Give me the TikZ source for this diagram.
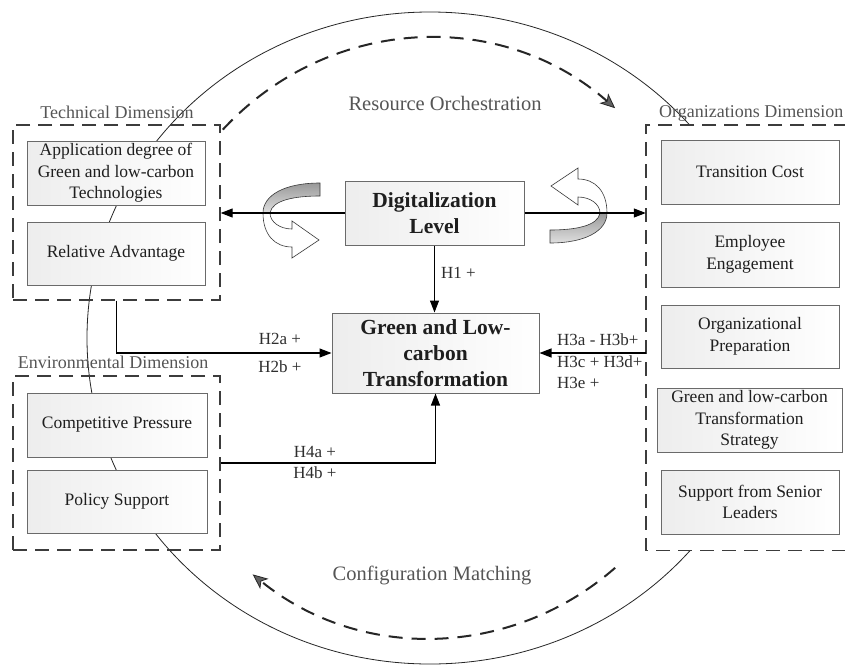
\documentclass[tikz,border=0pt]{standalone}
\usepackage{fontspec}
\setmainfont{Liberation Serif}
\usetikzlibrary{arrows.meta}
\definecolor{boxline}{HTML}{6A6A6A}
\definecolor{frameline}{HTML}{3C3C3C}
\definecolor{boxtext}{HTML}{1E1E1E}
\definecolor{labtext}{HTML}{2E2E2E}
\definecolor{dimtext}{HTML}{555555}
\newcommand\boxfont{\fontsize{17.5}{21.5}\selectfont}
\newcommand\boldboxfont{\fontsize{21.5}{26}\selectfont\bfseries}
\newcommand\hfont{\fontsize{17}{21}\selectfont}
\newcommand\dimfont{\fontsize{18}{22}\selectfont}
\newcommand\titlefont{\fontsize{20.5}{24}\selectfont}
\tikzset{
  twistarrow/.pic={
    \path[draw=gray!45!black, line width=0.6pt, top color=gray!80, bottom color=gray!25]
      (54,30) -- (54,17) .. controls (29,17) and (6,13) .. (4,0) -- (-3,0)
      .. controls (-3,18) and (19,30) .. (54,30) -- cycle;
    \path[draw=gray!45!black, line width=0.6pt, fill=white]
      (-3,0) .. controls (-3,-22) and (9,-34) .. (26,-34) -- (26,-45) -- (53,-27)
      -- (26,-8) -- (26,-16) .. controls (14,-16) and (4,-9) .. (4,0) -- cycle;
  }
}
\begin{document}
\begin{tikzpicture}[x=1pt,y=1pt,
  box/.style={draw=boxline, line width=1pt, left color=gray!14, right color=white,
    text=boxtext, align=center, inner sep=2pt, font=\boxfont},
  dimframe/.style={draw=frameline, line width=1.4pt, dash pattern=on 14pt off 8pt},
  conn/.style={line width=1.1pt, -{Triangle[length=12pt,width=9pt]}},
  flow/.style={line width=2pt, draw=black!85, dash pattern=on 14pt off 9pt,
    -{Stealth[length=15pt,width=13pt,inset=4pt,fill=gray!75!black,line width=0.8pt]}},
  hlab/.style={text=labtext, font=\hfont, inner sep=0pt},
  dimlab/.style={text=dimtext, font=\dimfont, inner sep=0pt},
  titlelab/.style={text=dimtext, font=\titlefont, inner sep=0pt}
]
\clip (0,0) rectangle (845,-664);
\fill[white] (0,0) rectangle (845,-664);

% big ellipse
\draw[line width=0.8pt, black!85] (430,-338) ellipse [x radius=343, y radius=326];

% dashed cycle arcs
\draw[flow] (430,-338) ++(136:288 and 300) arc[start angle=136, end angle=50, x radius=288, y radius=300];
\draw[flow] (430,-338) ++(-50:288 and 300) arc[start angle=-50, end angle=-128, x radius=288, y radius=300];

% frames
\node (tech) [dimframe, minimum width=207, minimum height=175, inner sep=0pt] at (116.5,-212.5) {};
\node (env) [dimframe, minimum width=207, minimum height=174, inner sep=0pt] at (116.5,-463) {};
\node (orgf) [fill=white, minimum width=224, minimum height=425, inner sep=0pt] at (758,-337.5) {};
\draw[dimframe] (orgf.north east) -- (orgf.north west) -- (orgf.south west) -- (orgf.south east);

\node (techlab) [dimlab] at (117,-112) {Technical Dimension};
\node (envlab) [dimlab] at (113,-362) {Environmental Dimension};
\node (orglab) [dimlab, anchor=west] at (659,-113) {Organizations Dimension};
\node (rotitle) [titlelab] at (445,-103) {Resource Orchestration};
\node (cmtitle) [titlelab] at (432,-575) {Configuration Matching};

% boxes
\node (app) [box, minimum width=178, minimum height=64] at (116,-173) {Application degree of\\Green and low-carbon\\Technologies};
\node (rel) [box, minimum width=178, minimum height=63] at (116,-253.5) {Relative Advantage};
\node (comp) [box, minimum width=180, minimum height=64] at (117,-425) {Competitive Pressure};
\node (pol) [box, minimum width=180, minimum height=63] at (117,-501.5) {Policy Support};
\node (dig) [box, font=\boldboxfont, minimum width=179, minimum height=64] at (434.5,-213) {Digitalization\\Level};
\node (green) [box, font=\boldboxfont, minimum width=207, minimum height=80, inner sep=0pt] at (435.5,-353) {Green and Low-\\carbon\\Transformation};
\node (trans) [box, minimum width=178, minimum height=64] at (750,-172) {Transition Cost};
\node (emp) [box, minimum width=178, minimum height=65] at (750,-254.5) {Employee\\Engagement};
\node (prep) [box, minimum width=178, minimum height=63] at (750,-336.5) {Organizational\\Preparation};
\node (strat) [box, minimum width=185, minimum height=64, inner sep=0pt] at (749.5,-420) {Green and low-carbon\\Transformation\\Strategy};
\node (sup) [box, minimum width=178, minimum height=64] at (750,-502) {Support from Senior\\Leaders};

% twisted arrows
\pic at (266,-213) {twistarrow};
\pic[rotate=180] at (604,-213) {twistarrow};

% connectors
\draw[conn] (dig.west) -- (dig.west -| tech.east);
\draw[conn] (dig.east) -- (dig.east -| orgf.west);
\draw[conn] (dig.south) -- (dig.south |- green.north);
\draw[conn] (tech.south) -- (tech.south |- green.west) -- (green.west);
\draw[conn] (orgf.west |- green.east) -- (green.east);
\draw[conn] (env.east) -- (env.east -| green.south) -- (green.south);

% labels
\node (h1) [hlab, anchor=west] at (441,-273) {H1 +};
\node (h2a) [hlab] at (280,-339) {H2a +};
\node (h2b) [hlab] at (280,-367) {H2b +};
\node (h3a) [hlab, anchor=west] at (557,-340) {H3a - H3b+};
\node (h3c) [hlab, anchor=west] at (557,-362) {H3c + H3d+};
\node (h3e) [hlab, anchor=west] at (557,-383) {H3e +};
\node (h4a) [hlab] at (315,-452) {H4a +};
\node (h4b) [hlab] at (315,-473) {H4b +};
\end{tikzpicture}
\end{document}
